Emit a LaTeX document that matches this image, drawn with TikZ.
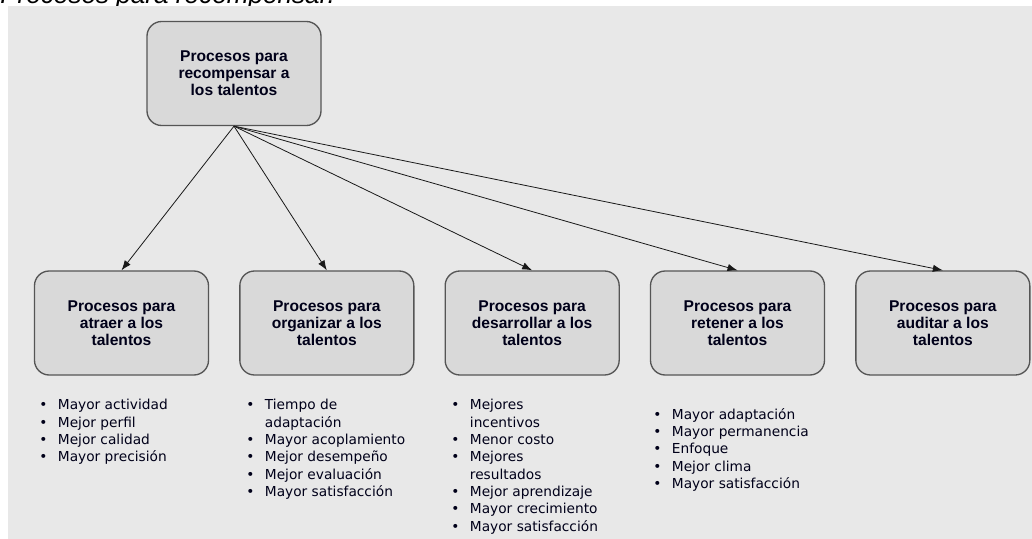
\documentclass[tikz,border=0pt]{standalone}
\usepackage{fontspec}
\setmainfont{Liberation Sans}
\newfontfamily\listfont{DejaVu Sans}
\usetikzlibrary{positioning}
\usetikzlibrary{arrows.meta}
\tikzset{>=latex}
\definecolor{bggray}{HTML}{E8E8E8}
\definecolor{boxgray}{HTML}{D9D9D9}
\definecolor{edgegray}{HTML}{555555}
\colorlet{boxtext}{black!90!blue}
\tikzstyle{procbox}=[draw=edgegray,fill=boxgray,line width=1pt,rounded corners=11pt,
                     minimum width=130.5pt,minimum height=78pt,align=center,inner sep=3pt,
                     text=boxtext,font=\fontsize{11.7}{12.6}\selectfont\bfseries]
\tikzstyle{proclist}=[anchor=north west,inner sep=0pt,align=left,text=boxtext,
                      font=\listfont\fontsize{10.3}{13}\selectfont]
\tikzstyle{procarrow}=[-{Latex[length=7.5pt,width=5.5pt]},line width=0.6pt,black!90]
\newcommand{\itm}{\makebox[14pt][l]{\textbullet}}
\newcommand{\itmcont}{\makebox[14pt]{}}

\begin{document}
\begin{tikzpicture}[x=0.75pt,y=-0.75pt]
  \def\w{22.5pt} % gap between the lower boxes
  \useasboundingbox (0,0) rectangle (1032,539);

  % caption, cut by the top edge
  \begin{scope}
    \clip (0,0) rectangle (1032,539);
    \node[anchor=base west,inner sep=0pt,font=\itshape\fontsize{19.6}{20}\selectfont] (caption)
      at (0,3.5) {Procesos para recompensar.};
    \fill[bggray] (8,6) rectangle (1032,539);
  \end{scope}

  % top
  \node[procbox] (rec) at (234,73.5) {Procesos para\\recompensar a\\los talentos};

  % lower row
  \node[procbox] (atr) at (121.5,323) {Procesos para\\atraer a los\\talentos};
  \node[procbox,right=\w of atr] (org) {Procesos para\\organizar a los\\talentos};
  \node[procbox,right=\w of org] (des) {Procesos para\\desarrollar a los\\talentos};
  \node[procbox,right=\w of des] (ret) {Procesos para\\retener a los\\talentos};
  \node[procbox,right=\w of ret] (aud) {Procesos para\\auditar a los\\talentos};

  \foreach \n in {atr,org,des,ret,aud}
    \draw[procarrow] (rec.south) -- (\n.north);

  % lists
  \node[proclist] (atrlist) at (39,399) {
    \itm Mayor actividad\\
    \itm Mejor perfil\\
    \itm Mejor calidad\\
    \itm Mayor precisión
  };
  \node[proclist] (orglist) at (246,399) {
    \itm Tiempo de\\
    \itmcont adaptación\\
    \itm Mayor acoplamiento\\
    \itm Mejor desempeño\\
    \itm Mejor evaluación\\
    \itm Mayor satisfacción
  };
  \node[proclist] (deslist) at (451,399) {
    \itm Mejores\\
    \itmcont incentivos\\
    \itm Menor costo\\
    \itm Mejores\\
    \itmcont resultados\\
    \itm Mejor aprendizaje\\
    \itm Mayor crecimiento\\
    \itm Mayor satisfacción
  };
  \node[proclist] (retlist) at (653,408) {
    \itm Mayor adaptación\\
    \itm Mayor permanencia\\
    \itm Enfoque\\
    \itm Mejor clima\\
    \itm Mayor satisfacción
  };
\end{tikzpicture}
\end{document}
